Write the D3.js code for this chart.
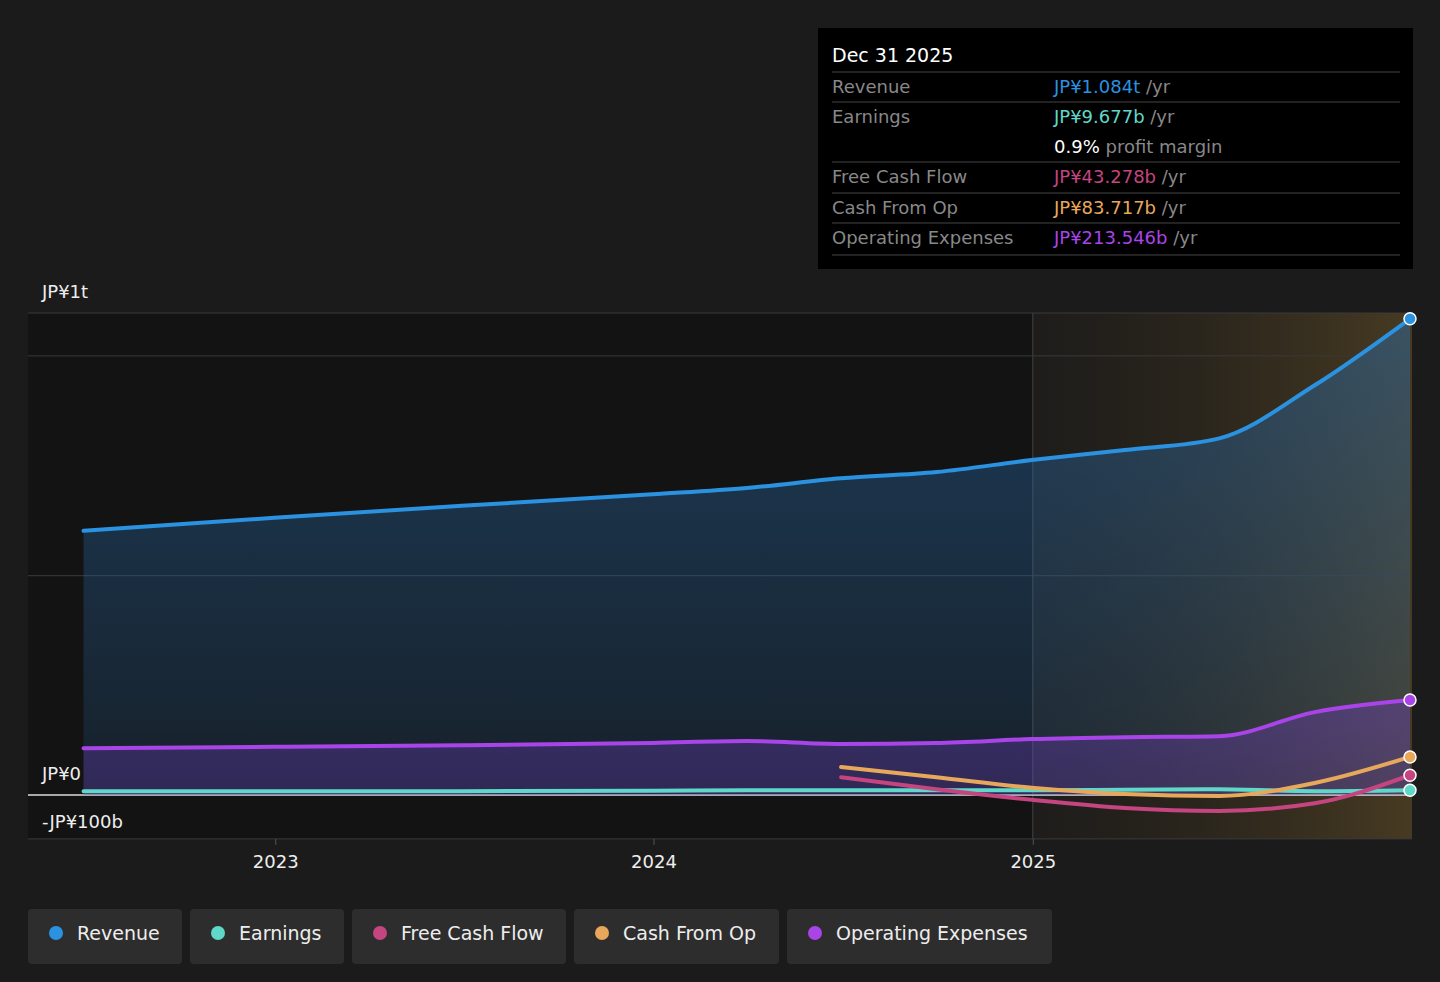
<!DOCTYPE html>
<html><head><meta charset="utf-8">
<script src="https://cdn.jsdelivr.net/npm/d3@7"></script>
<style>
body{margin:0;background:#1b1b1b;font-family:"DejaVu Sans",sans-serif;}
</style></head><body>
<svg id="c" width="1440" height="982"></svg>
<script>
const width = 1440, height = 982;
const marginLeft = 28, marginRight = 28;

// values in billions of JP¥
const dates = ["2022-06-30","2022-12-31","2023-06-30","2023-12-31","2024-03-31","2024-06-30","2024-09-30","2024-12-31","2025-03-31","2025-06-30","2025-09-30","2025-12-31"];
const revenue = [548, 575, 600, 624, 637, 657, 670, 695, 716, 740, 850, 988];
const opex = [97, 100, 103, 108, 112, 106, 108, 116, 120, 122, 172, 197];
const earnings = [8, 8, 8, 9, 10, 10, 10, 10, 11, 12, 8, 10];
const cfDates = ["2024-06-30","2024-09-30","2024-12-31","2025-03-31","2025-06-30","2025-09-30","2025-12-31"];
const fcf = [37, 12, -10, -27, -33, -17, 41];
const cfo = [58, 37, 15, 2, -2, 25, 79];
const xTicks = ["2023-01-01","2024-01-01","2025-01-01"];
const gridVals = [-91, 0, 455, 911, 1000];

const parse = d3.timeParse("%Y-%m-%d");
const x = d3.scaleTime().domain([parse("2022-01-01"), parse("2025-12-31")]).range([-103, 1410]);
const y = d3.scaleLinear().domain([0, 1000]).range([795, 313]);
const todayX = x(parse("2025-01-01"));

const svg = d3.select("#c");
const defs = svg.append("defs");
const fut = defs.append("linearGradient").attr("id","fut");
fut.append("stop").attr("offset","0").attr("stop-color","#3a2e1a").attr("stop-opacity",0.1);
fut.append("stop").attr("offset","1").attr("stop-color","#6b5428").attr("stop-opacity",0.55);
function vgrad(id, c, o1, o2){
  const g = defs.append("linearGradient").attr("id",id).attr("x1",0).attr("x2",0).attr("y1",0).attr("y2",1);
  g.append("stop").attr("offset","0").attr("stop-color",c).attr("stop-opacity",o1);
  g.append("stop").attr("offset","1").attr("stop-color",c).attr("stop-opacity",o2);
}
vgrad("revG","#2a6fb0",0.45,0.15);
vgrad("opG","#7a3fd0",0.35,0.25);

// backgrounds
svg.append("rect").attr("x",marginLeft).attr("y",y(1000)).attr("width",todayX-marginLeft).attr("height",y(-91)-y(1000)).attr("fill","#131313");
svg.append("rect").attr("x",todayX).attr("y",y(1000)).attr("width",width-marginRight-todayX).attr("height",y(-91)-y(1000)).attr("fill","url(#fut)");
svg.append("line").attr("x1",todayX).attr("x2",todayX).attr("y1",y(1000)).attr("y2",y(-91)).attr("stroke","#444");

svg.append("g").selectAll("line").data(gridVals).join("line")
  .attr("x1",marginLeft).attr("x2",width-marginRight)
  .attr("y1",d=>y(d)).attr("y2",d=>y(d))
  .attr("stroke",d=>d===0?"#ddd":"#3a3a3a").attr("stroke-width",d=>d===0?1.5:1);

const rev = dates.map((d,i)=>({d:parse(d),v:revenue[i]}));
const op = dates.map((d,i)=>({d:parse(d),v:opex[i]}));
const ea = dates.map((d,i)=>({d:parse(d),v:earnings[i]}));
const fc = cfDates.map((d,i)=>({d:parse(d),v:fcf[i]}));
const co = cfDates.map((d,i)=>({d:parse(d),v:cfo[i]}));

const curve = d3.curveMonotoneX;
const line = d3.line().x(d=>x(d.d)).y(d=>y(d.v)).curve(curve);
const area = d3.area().x(d=>x(d.d)).y0(y(0)).y1(d=>y(d.v)).curve(curve);

svg.append("path").attr("d",area(rev)).attr("fill","url(#revG)");
svg.append("path").attr("d",area(op)).attr("fill","url(#opG)");

const series = [
  [ea,"#5fd8c9"],[fc,"#c4457f"],[co,"#e8a85c"],[op,"#a944e8"],[rev,"#2a92e0"]
];
series.forEach(([s,c])=>{
  svg.append("path").attr("d",line(s)).attr("fill","none").attr("stroke",c).attr("stroke-width",4).attr("stroke-linecap","round");
  const l = s[s.length-1];
  svg.append("circle").attr("cx",x(l.d)).attr("cy",y(l.v)).attr("r",6).attr("fill",c).attr("stroke","#fff").attr("stroke-width",1.5);
});

// y labels
[["JP¥1t",1000],["JP¥0",0],["-JP¥100b",-100]].forEach(([t,v])=>{
  svg.append("text").attr("x",42).attr("y",y(v)-15).attr("fill","#eee").attr("font-size",18).text(t);
});

// x axis
svg.append("g").attr("transform",`translate(0,${y(-91)})`)
  .call(d3.axisBottom(x).tickValues(xTicks.map(parse)).tickFormat(d3.timeFormat("%Y")).tickSize(6))
  .call(g=>g.select(".domain").remove())
  .call(g=>g.selectAll("line").attr("stroke","#555"))
  .call(g=>g.selectAll("text").attr("fill","#eee").attr("font-size",18).attr("dy","1.1em").attr("font-family","DejaVu Sans"));

// tooltip
const tt = svg.append("g").attr("transform","translate(818,28)");
tt.append("rect").attr("width",595).attr("height",241).attr("fill","#000");
tt.append("text").attr("x",14).attr("y",34).attr("fill","#fff").attr("font-size",19).text("Dec 31 2025");
const rows = [
  ["Revenue","JP¥1.084t","/yr","#2a92e0",58],
  ["Earnings","JP¥9.677b","/yr","#5fd8c9",88],
  ["","0.9%","profit margin","#fff",118],
  ["Free Cash Flow","JP¥43.278b","/yr","#c4457f",148],
  ["Cash From Op","JP¥83.717b","/yr","#e8a85c",179],
  ["Operating Expenses","JP¥213.546b","/yr","#a944e8",209]
];
[44,74,134,165,195,227].forEach(yy=>tt.append("line").attr("x1",14).attr("x2",582).attr("y1",yy).attr("y2",yy).attr("stroke","#444"));
rows.forEach(([l,v,u,c,yy])=>{
  tt.append("text").attr("x",14).attr("y",yy+7).attr("fill","#888").attr("font-size",18).text(l);
  const t = tt.append("text").attr("x",236).attr("y",yy+7).attr("font-size",18);
  t.append("tspan").attr("fill",c).text(v);
  t.append("tspan").attr("fill","#888").text(" "+u);
});

// legend
const legend = [["Revenue","#2a92e0",154],["Earnings","#5fd8c9",154],["Free Cash Flow","#c4457f",214],["Cash From Op","#e8a85c",205],["Operating Expenses","#a944e8",265]];
let lx = 28;
legend.forEach(([t,c,w])=>{
  const g = svg.append("g").attr("transform",`translate(${lx},909)`);
  g.append("rect").attr("width",w).attr("height",55).attr("rx",4).attr("fill","#2d2d2d");
  g.append("circle").attr("cx",28).attr("cy",24).attr("r",7).attr("fill",c);
  g.append("text").attr("x",49).attr("y",31).attr("fill","#eee").attr("font-size",19).text(t);
  lx += w + 8;
});
</script>
</body></html>
